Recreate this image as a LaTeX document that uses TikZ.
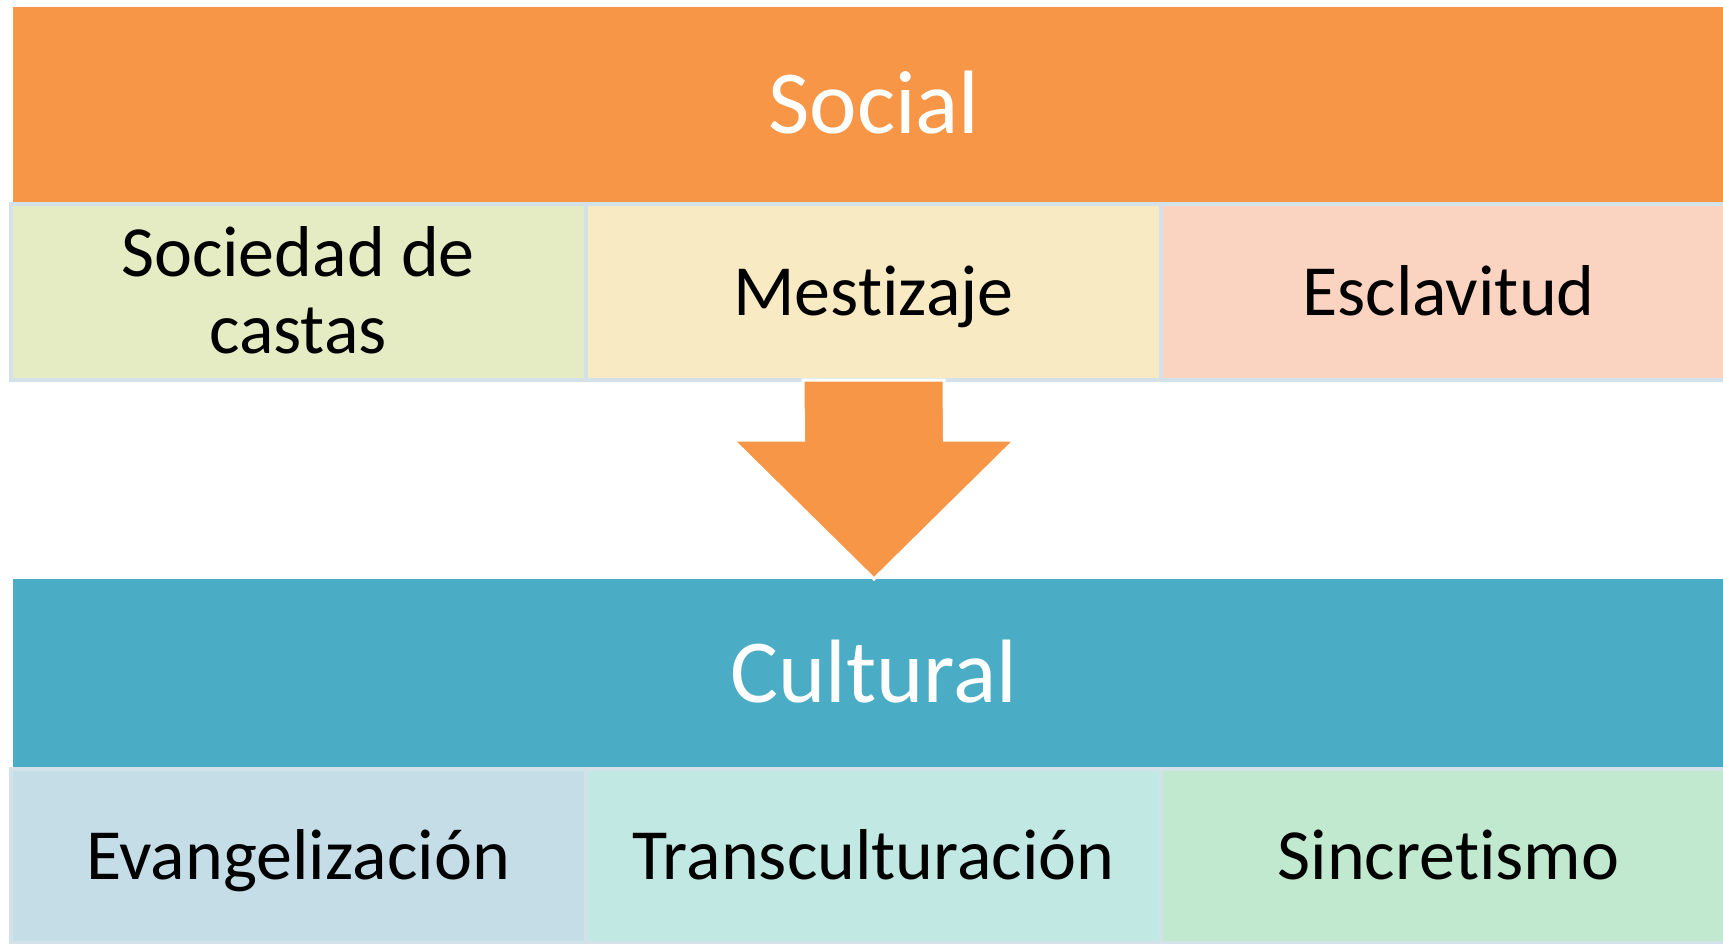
\documentclass[tikz,border=0pt]{standalone}
\usepackage{fontspec}
\setmainfont[Ligatures=NoCommon,RawFeature={-liga;-clig;-calt;-dlig}]{Carlito}
\usetikzlibrary{positioning}

\definecolor{socialorange}{HTML}{F79646}
\definecolor{culturalblue}{HTML}{4BACC6}
\definecolor{boxline}{HTML}{D3E2E9}
\definecolor{castasfill}{HTML}{E5ECC4}
\definecolor{mestfill}{HTML}{F8EAC3}
\definecolor{esclfill}{HTML}{FAD4C1}
\definecolor{evanfill}{HTML}{C4DDE6}
\definecolor{transfill}{HTML}{C1E8E2}
\definecolor{sincfill}{HTML}{C0E9D0}

\begin{document}
\begin{tikzpicture}[x=1pt,y=-1pt]
		\tikzstyle{bar}=[rectangle,inner sep=0,outer sep=0,minimum width=1722pt,text height=57pt,text depth=0pt,text=white,font=\fontsize{90}{100}\selectfont]
		\tikzstyle{item}=[rectangle,draw=boxline,line width=4pt,inner sep=0,outer sep=0,minimum width=575pt,text height=46pt,text depth=0pt,align=center,font=\fontsize{72}{77}\selectfont]
		\tikzstyle{bigarrow}=[fill=socialorange,draw=white,line width=3pt,line join=miter]
		
		\useasboundingbox (0,0) rectangle (1723,944);
		\clip (0,0) rectangle (1723,944);
		
		% social
		\node[bar, fill=socialorange, minimum height=197pt] (social) at (874,105.5) {Social};
		\node[item, fill=castasfill, minimum height=176pt, text height=123pt] (castas) at (298,292) {Sociedad de\\castas};
		\node[item, fill=mestfill, minimum height=176pt] (mest) at (873.5,292) {Mestizaje};
		\node[item, fill=esclfill, minimum height=176pt] (escl) at (1448.5,292) {Esclavitud};
		
		% cultural
		\node[bar, fill=culturalblue, minimum height=190pt] (cult) at (874,674) {Cultural};
		\node[item, fill=evanfill, minimum height=174pt] (evan) at (298,856) {Evangelización};
		\node[item, fill=transfill, minimum height=174pt] (trans) at (873.5,856) {Transculturación};
		\node[item, fill=sincfill, minimum height=174pt] (sinc) at (1448.5,856) {Sincretismo};
		
		\coordinate (neck) at (874,440);
		\draw[bigarrow] ([xshift=-70.5pt]mest.south) -- ([xshift=-70.5pt]neck) -- ([xshift=-141pt]neck)
			-- (cult.north) -- ([xshift=141pt]neck) -- ([xshift=70.5pt]neck) -- ([xshift=70.5pt]mest.south) -- cycle;
\end{tikzpicture}
\end{document}
